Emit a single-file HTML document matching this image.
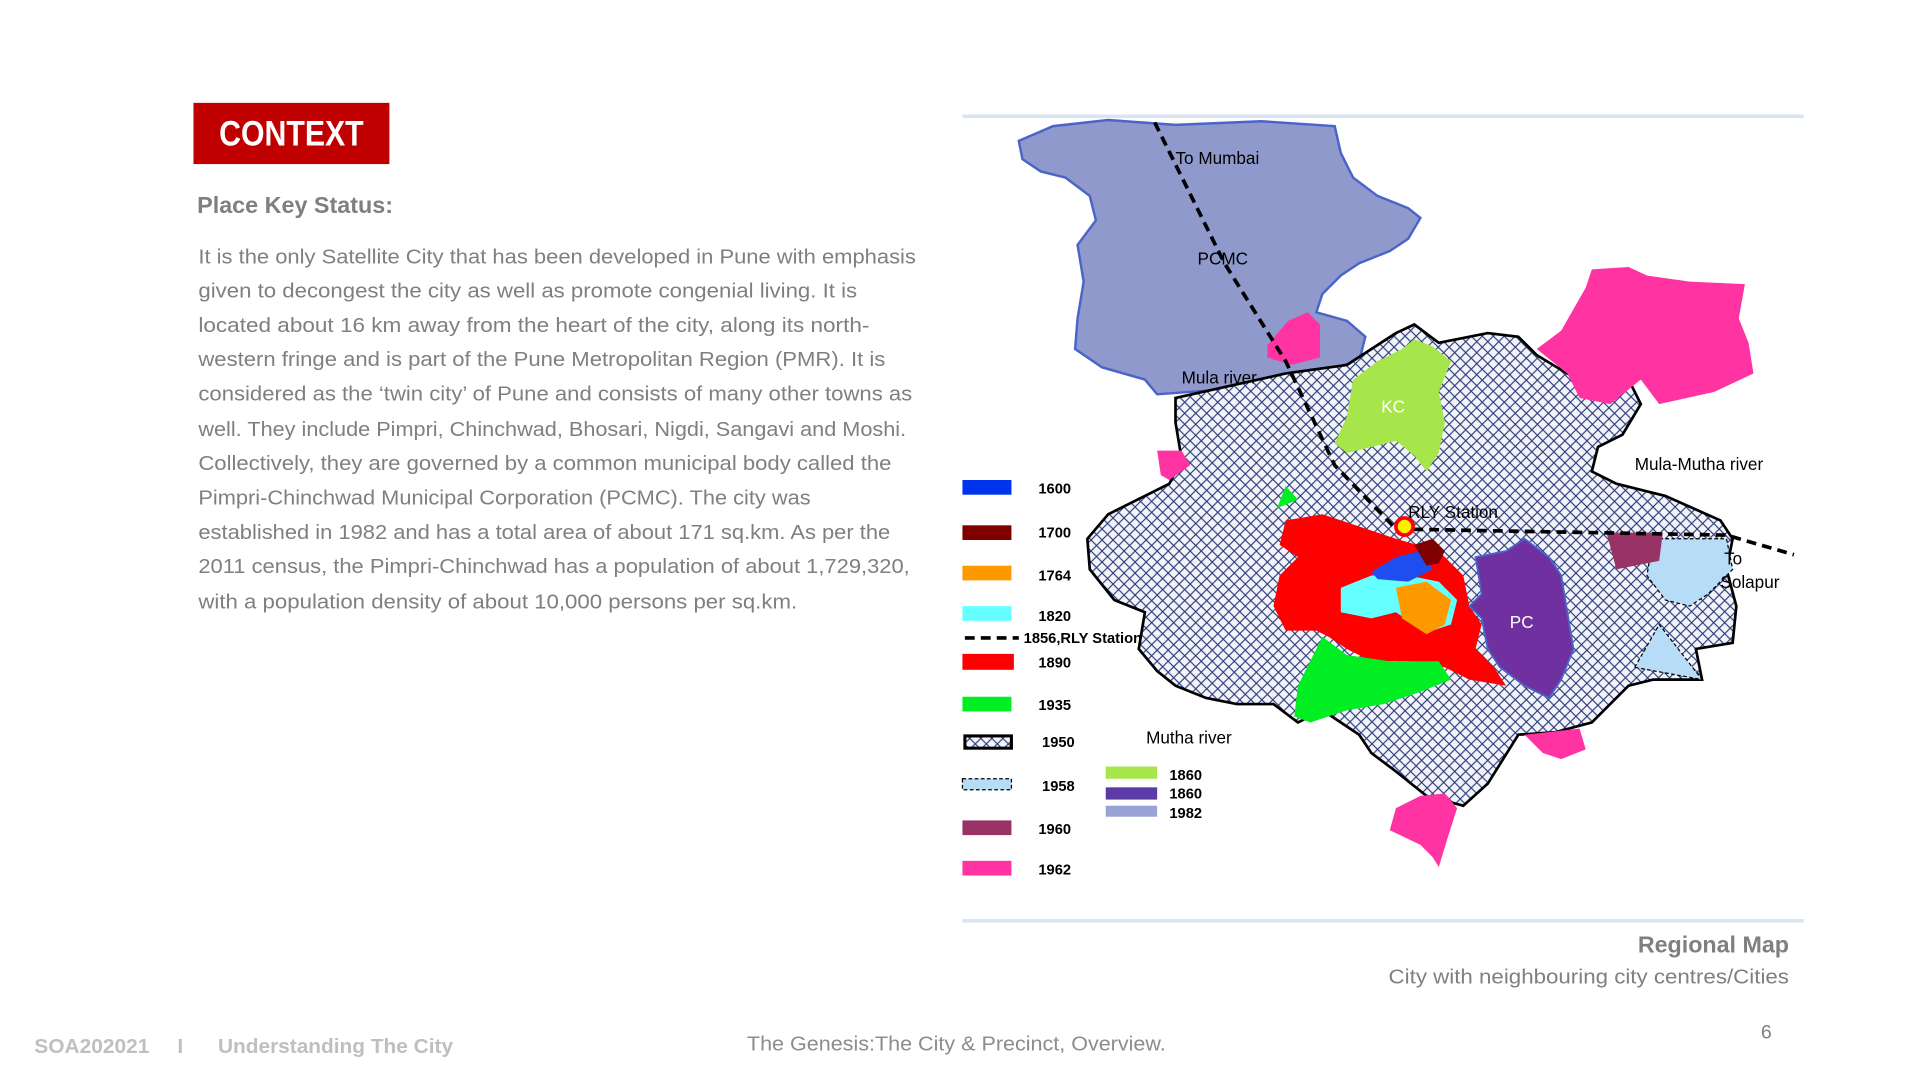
<!DOCTYPE html>
<html><head><meta charset="utf-8"><style>
html,body{margin:0;padding:0;background:#fff;width:1920px;height:1080px;overflow:hidden}
svg{display:block}
text{font-family:"Liberation Sans",sans-serif}
</style></head><body>
<svg width="1920" height="1080" viewBox="0 0 1568 882" xmlns="http://www.w3.org/2000/svg">
<defs>
<pattern id="hatch" width="9" height="9" patternUnits="userSpaceOnUse">
<rect width="9" height="9" fill="#f2f4fa"/>
<path d="M0 0L9 9M9 0L0 9" stroke="#2a3a78" stroke-width="0.9"/>
</pattern>
</defs>

<rect x="158" y="84" width="160" height="50" fill="#c00000"/>
<text x="238" y="119" text-anchor="middle" fill="#fff" font-size="29" font-weight="bold" textLength="118" lengthAdjust="spacingAndGlyphs">CONTEXT</text>
<text x="161" y="174" fill="#7f7f7f" font-size="19" font-weight="bold" textLength="160" lengthAdjust="spacingAndGlyphs">Place Key Status:</text>

<g fill="#7f7f7f" font-size="16.5">
<text x="162" y="215" textLength="586" lengthAdjust="spacingAndGlyphs">It is the only Satellite City that has been developed in Pune with emphasis</text>
<text x="162" y="243" textLength="538" lengthAdjust="spacingAndGlyphs">given to decongest the city as well as promote congenial living.  It is</text>
<text x="162" y="271" textLength="548" lengthAdjust="spacingAndGlyphs">located about 16 km away from the heart of the city, along its north-</text>
<text x="162" y="299" textLength="561" lengthAdjust="spacingAndGlyphs">western fringe and is part of the Pune Metropolitan Region (PMR). It is</text>
<text x="162" y="327" textLength="583" lengthAdjust="spacingAndGlyphs">considered as the ‘twin city’ of Pune and consists of many other towns as</text>
<text x="162" y="356" textLength="578" lengthAdjust="spacingAndGlyphs">well. They include Pimpri, Chinchwad, Bhosari, Nigdi, Sangavi and Moshi.</text>
<text x="162" y="384" textLength="566" lengthAdjust="spacingAndGlyphs">Collectively, they are governed by a common municipal body called the</text>
<text x="162" y="412" textLength="500" lengthAdjust="spacingAndGlyphs">Pimpri-Chinchwad Municipal Corporation (PCMC). The city was</text>
<text x="162" y="440" textLength="565" lengthAdjust="spacingAndGlyphs">established in 1982 and has a total area of about 171 sq.km. As per the</text>
<text x="162" y="468" textLength="581" lengthAdjust="spacingAndGlyphs">2011 census, the Pimpri-Chinchwad has a population of about 1,729,320,</text>
<text x="162" y="497" textLength="489" lengthAdjust="spacingAndGlyphs">with a population density of about 10,000 persons per sq.km.</text>
</g>

<line x1="786" y1="95" x2="1473" y2="95" stroke="#dbe5f1" stroke-width="3"/>
<line x1="786" y1="752" x2="1473" y2="752" stroke="#dbe5f1" stroke-width="3"/>

<g>
<polygon fill="#8f99cc" stroke="#4a64c8" stroke-width="2" points="832,115 860,103 905,98 960,102 1030,99 1090,103 1095,125 1105,145 1125,160 1150,170 1160,178 1150,195 1135,205 1110,215 1095,225 1080,240 1075,255 1100,262 1115,275 1110,295 1090,300 1070,302 1045,318 1000,318 945,322 935,310 900,300 878,285 880,260 885,230 880,200 895,180 890,160 870,145 850,140 835,130"/>
<polygon fill="url(#hatch)" stroke="#000" stroke-width="2.2" points="960,325 1050,305 1100,298 1140,272 1155,265 1175,280 1215,272 1240,275 1255,290 1280,305 1310,315 1330,310 1340,330 1325,355 1305,365 1300,385 1320,395 1360,405 1405,425 1415,440 1410,465 1418,495 1415,525 1385,530 1390,555 1350,555 1330,560 1300,590 1270,598 1240,600 1215,640 1195,658 1165,650 1140,630 1120,615 1110,600 1080,580 1060,590 1040,575 1010,575 985,570 960,560 945,548 930,530 935,500 910,490 890,465 888,440 905,420 935,405 955,395 965,375 960,345"/>
<polygon fill="#ff33a1" points="1255,285 1275,270 1295,235 1300,220 1330,218 1345,225 1380,230 1425,232 1420,260 1428,280 1432,305 1400,320 1355,330 1340,310 1330,318 1315,330 1290,325 1280,305"/>
<polygon fill="#ff33a1" points="1035,282 1052,262 1068,255 1078,265 1078,292 1055,298 1035,292"/>
<polygon fill="#ff33a1" points="945,368 965,368 972,380 955,392 948,388"/>
<polygon fill="#ff33a1" points="1245,600 1290,595 1295,612 1275,620 1260,615"/>
<polygon fill="#ff33a1" points="1140,660 1160,650 1180,648 1190,660 1182,685 1175,708 1170,700 1160,690 1135,678"/>
<polygon fill="#a6e64a" points="1105,310 1125,295 1145,285 1155,277 1170,283 1185,295 1175,320 1180,345 1175,370 1165,385 1155,372 1140,360 1120,365 1100,370 1090,362 1100,340"/>
<polygon fill="#00ee22" points="1043,415 1050,397 1060,408"/>
<polygon fill="#ff0000" points="1050,425 1080,420 1110,430 1140,440 1175,450 1195,470 1200,495 1210,510 1205,530 1220,545 1230,560 1200,555 1180,545 1150,540 1120,540 1100,530 1085,520 1075,515 1050,515 1040,495 1045,470 1060,455 1045,445"/>
<polygon fill="#00ee22" points="1080,520 1100,535 1135,540 1175,540 1185,555 1160,565 1130,575 1100,580 1070,590 1057,585 1060,560"/>
<polygon fill="#66ffff" points="1095,480 1120,470 1150,470 1175,475 1190,490 1185,510 1170,515 1155,510 1140,500 1120,505 1095,500"/>
<polygon fill="#ff9900" points="1140,480 1165,475 1185,490 1180,510 1165,518 1145,505"/>
<polygon fill="#1f4ef0" points="1120,467 1140,455 1160,450 1170,465 1150,475 1125,473"/>
<polygon fill="#800000" points="1155,445 1170,440 1180,450 1175,460 1165,462"/>
<polygon fill="#7030a0" stroke="#4a64c8" stroke-width="1.5" points="1205,455 1230,450 1245,440 1265,455 1275,470 1280,500 1285,530 1275,555 1265,570 1245,560 1225,545 1215,530 1210,505 1200,495 1210,485"/>
<polygon fill="#b6dcf8" stroke="#000" stroke-dasharray="3 2" points="1350,440 1410,440 1415,465 1395,485 1380,495 1360,490 1345,470"/>
<polygon fill="#b6dcf8" stroke="#000" stroke-dasharray="3 2" points="1335,545 1355,510 1390,555"/>
<polygon fill="#993366" points="1312,435 1358,435 1355,458 1320,465"/>
<polyline fill="none" stroke="#000" stroke-width="3" stroke-dasharray="8 5" points="943,100 1000,215 1050,295 1090,380 1140,432 1410,437 1465,453"/>
<circle cx="1147" cy="430" r="7" fill="#ffee00" stroke="#ff0000" stroke-width="3"/>
<g font-size="14" fill="#000">
<text x="960" y="134">To Mumbai</text>
<text x="978" y="216">PCMC</text>
<text x="965" y="313">Mula river</text>
<text x="1150" y="423">RLY Station</text>
<text x="1335" y="384">Mula-Mutha river</text>
<text x="1408" y="461">To</text>
<text x="1405" y="480">Solapur</text>
<text x="936" y="607">Mutha river</text>
<text x="1128" y="337" fill="#fff">KC</text>
<text x="1233" y="513" fill="#fff">PC</text>
</g>
</g>

<g font-size="12" font-weight="bold" fill="#000">
<rect x="786" y="392" width="40" height="12" fill="#0033ee"/><text x="848" y="403">1600</text>
<rect x="786" y="429" width="40" height="12" fill="#800000"/><text x="848" y="439">1700</text>
<rect x="786" y="462" width="40" height="12" fill="#ff9900"/><text x="848" y="474">1764</text>
<rect x="786" y="495" width="40" height="12" fill="#66ffff"/><text x="848" y="507">1820</text>
<line x1="788" y1="521" x2="832" y2="521" stroke="#000" stroke-width="3" stroke-dasharray="8 5"/><text x="836" y="525">1856,RLY Station</text>
<rect x="786" y="534" width="42" height="13" fill="#ff0000"/><text x="848" y="545">1890</text>
<rect x="786" y="569" width="40" height="12" fill="#00ee22"/><text x="848" y="580">1935</text>
<rect x="788" y="601" width="38" height="10" fill="url(#hatch)" stroke="#000" stroke-width="2.5"/><text x="851" y="610">1950</text>
<rect x="786" y="636" width="40" height="9" fill="#b6dcf8" stroke="#000" stroke-dasharray="3 2"/><text x="851" y="646">1958</text>
<rect x="786" y="670" width="40" height="12" fill="#993366"/><text x="848" y="681">1960</text>
<rect x="786" y="703" width="40" height="12" fill="#ff33a1"/><text x="848" y="714">1962</text>
<rect x="903" y="626" width="42" height="10" fill="#a6e64a"/><text x="955" y="637">1860</text>
<rect x="903" y="643" width="42" height="10" fill="#5c3aa8"/><text x="955" y="652">1860</text>
<rect x="903" y="658" width="42" height="9" fill="#99a3d6"/><text x="955" y="668">1982</text>
</g>

<text x="1461" y="778" text-anchor="end" font-size="19" font-weight="bold" fill="#7f7f7f">Regional Map</text>
<text x="1461" y="803" text-anchor="end" font-size="16.5" fill="#7f7f7f" textLength="327" lengthAdjust="spacingAndGlyphs">City with neighbouring city centres/Cities</text>
<text x="28" y="860" font-size="16.5" font-weight="bold" fill="#bfbfbf" textLength="94" lengthAdjust="spacingAndGlyphs">SOA202021</text>
<text x="145" y="860" font-size="16.5" font-weight="bold" fill="#bfbfbf">I</text>
<text x="178" y="860" font-size="16.5" font-weight="bold" fill="#bfbfbf" textLength="192" lengthAdjust="spacingAndGlyphs">Understanding The City</text>
<text x="610" y="858" font-size="16.5" fill="#8c8c8c" textLength="342" lengthAdjust="spacingAndGlyphs">The Genesis:The City &amp; Precinct, Overview.</text>
<text x="1438" y="848" font-size="16" fill="#7f7f7f">6</text>
</svg>
</body></html>
